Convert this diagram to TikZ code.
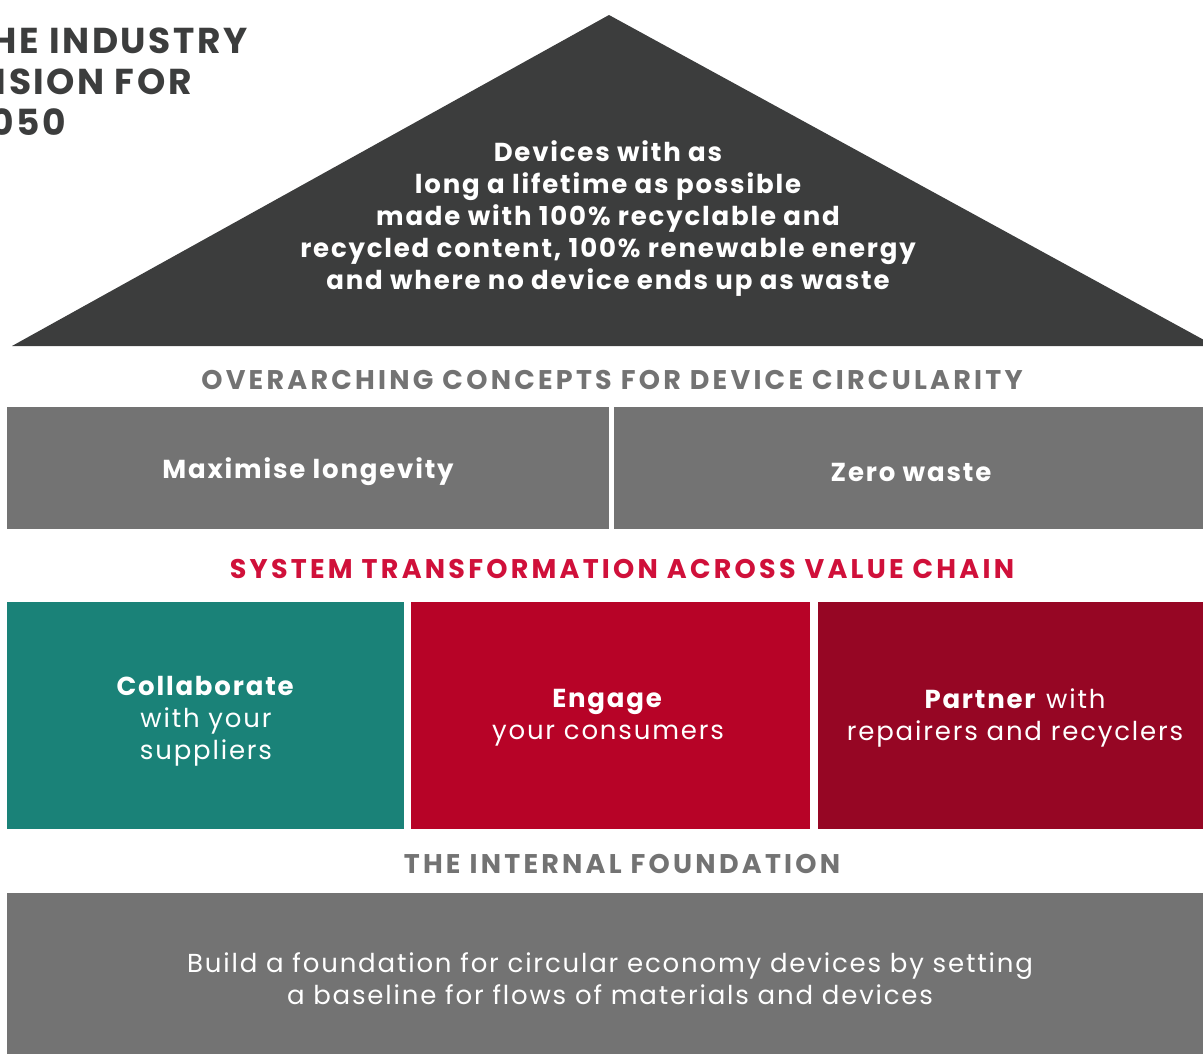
\documentclass[tikz,border=0pt]{standalone}
\usepackage{fontspec}
\setmainfont{Poppins}
\newfontfamily\bodyfont{Poppins}[LetterSpace=7]
\newfontfamily\headfont{Poppins}[LetterSpace=12]
\definecolor{roofgrey}{HTML}{3C3D3D}
\definecolor{midgrey}{HTML}{737373}
\definecolor{headred}{HTML}{D0103A}
\definecolor{teal}{HTML}{1A8278}
\definecolor{brightred}{HTML}{B70327}
\definecolor{darkred}{HTML}{960624}
\begin{document}
\begin{tikzpicture}[x=1pt,y=-1pt,
  every node/.style={inner sep=0pt,align=center},
  heading/.style={font=\headfont\bfseries\fontsize{27}{32}\selectfont},
  boxtext/.style={text=white,font=\bodyfont\fontsize{26}{32}\selectfont},
  boldtext/.style={text=white,font=\bodyfont\bfseries\fontsize{26}{32}\selectfont}]
\clip (0,0) rectangle (1203,1054);
% the roof
\fill[roofgrey] (609,15) -- (12,346) -- (1215,346) -- cycle;
\node[boldtext] (vision) at (608,219)
  {Devices with as\\long a lifetime as possible\\made with 100\% recyclable and\\recycled content, 100\% renewable energy\\and where no device ends up as waste};
\node[anchor=north west,align=left,text=roofgrey,font=\bodyfont\bfseries\fontsize{36}{41}\selectfont] (title) at (-33,28)
  {THE INDUSTRY\\VISION FOR\\2050};
% overarching concepts
\node[heading,text=midgrey] (concepts) at (612,380) {OVERARCHING CONCEPTS FOR DEVICE CIRCULARITY};
\fill[midgrey] (7,407) rectangle (609,529);
\fill[midgrey] (614,407) rectangle (1203,529);
\node[boldtext] (longevity) at (308,472) {Maximise longevity};
\node[boldtext] (waste) at (911,472) {Zero waste};
% value chain
\node[heading,text=headred] (chain) at (622,569) {SYSTEM TRANSFORMATION ACROSS VALUE CHAIN};
\fill[teal] (7,602) rectangle (404,829);
\fill[brightred] (411,602) rectangle (810,829);
\fill[darkred] (818,602) rectangle (1203,829);
\node[boxtext] (suppliers) at (206,721) {\textbf{Collaborate}\\with your\\suppliers};
\node[boxtext] (consumers) at (608,718) {\textbf{Engage}\\your consumers};
\node[boxtext] (recyclers) at (1015,718) {\textbf{Partner} with\\repairers and recyclers};
% internal foundation
\node[heading,text=midgrey] (internal) at (622,864) {THE INTERNAL FOUNDATION};
\fill[midgrey] (7,893) rectangle (1203,1054);
\node[boxtext] (baseline) at (610,979)
  {Build a foundation for circular economy devices by setting\\a baseline for flows of materials and devices};
\end{tikzpicture}
\end{document}
